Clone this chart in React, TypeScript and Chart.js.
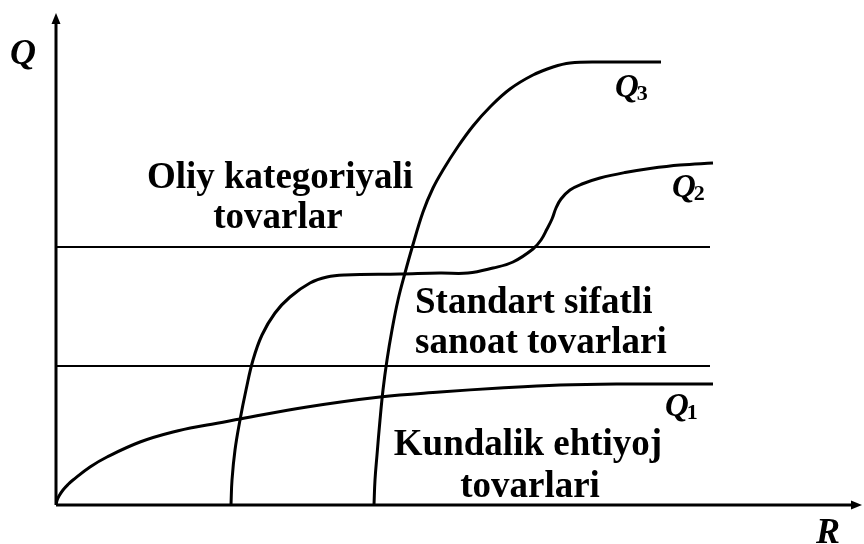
import React, { useEffect, useRef } from "react";
import { Chart, registerables } from "chart.js";

Chart.register(...registerables);

// Curve Q1 (R, Q)
const q1R = [0, 1, 3, 7, 12, 17, 34, 51, 84, 117, 151, 184, 251, 324, 384, 444, 504, 564, 657];
const q1Q = [0, 4.5, 9, 15, 20.5, 25, 38, 48, 63, 73, 80, 86, 98, 108, 113, 117, 120, 121, 121];

// Curve Q2 (R, Q)
const q2R = [175, 176, 179, 184, 190, 197, 206, 219, 234, 254, 271, 289, 344, 384, 412, 437, 457, 477, 485, 491, 496, 500, 505, 514, 526, 544, 569, 594, 624, 657];
const q2Q = [0, 25, 55, 85, 115, 145, 170, 192, 208, 222, 228, 230, 231, 232, 232, 237, 243, 256, 265, 276, 286, 297, 306, 315, 321, 327, 332.5, 336.5, 340, 342];

// Curve Q3 (R, Q)
const q3R = [318, 319, 321, 324, 327, 331, 336, 342, 349, 356, 367, 377, 387, 401, 417, 434, 454, 477, 497, 514, 544, 605];
const q3Q = [0, 25, 50, 85, 115, 145, 175, 205, 232, 257, 293, 317, 335, 357, 379, 398, 416, 430, 438, 442, 443, 443];

// Zone boundaries
const boundaryLevels = [258, 139];
const boundaryEnd = 654;

// Axis ranges
const rMax = 806;
const qMax = 492;

// Texts
const axisTitles = ["Q", "R"];
const curveNames = ["Q", "Q", "Q"];
const curveSubs = ["1", "2", "3"];
const zoneHigh = ["Oliy kategoriyali", "tovarlar"];
const zoneStandard = ["Standart sifatli", "sanoat tovarlari"];
const zoneDaily = ["Kundalik ehtiyoj", "tovarlari"];

const pts = (xs: number[], ys: number[]) => xs.map((x, i) => ({ x, y: ys[i] }));

const SERIF = '"Liberation Serif", "Times New Roman", serif';

const overlay = {
  id: "overlay",
  afterDatasetsDraw(chart: any) {
    const { ctx, scales } = chart;
    const xs = scales.x;
    const ys = scales.y;
    const px = (v: number) => xs.getPixelForValue(v);
    const py = (v: number) => ys.getPixelForValue(v);
    ctx.save();
    ctx.fillStyle = "#000";
    ctx.strokeStyle = "#000";
    // axes
    const ox = px(0);
    const oy = py(0);
    const xEnd = px(rMax);
    const yEnd = py(qMax);
    ctx.lineWidth = 3;
    ctx.beginPath();
    ctx.moveTo(ox, oy);
    ctx.lineTo(xEnd - 8, oy);
    ctx.moveTo(ox, oy);
    ctx.lineTo(ox, yEnd + 8);
    ctx.stroke();
    ctx.beginPath();
    ctx.moveTo(xEnd, oy);
    ctx.lineTo(xEnd - 11, oy - 4.5);
    ctx.lineTo(xEnd - 11, oy + 4.5);
    ctx.closePath();
    ctx.fill();
    ctx.beginPath();
    ctx.moveTo(ox, yEnd);
    ctx.lineTo(ox - 4.5, yEnd + 11);
    ctx.lineTo(ox + 4.5, yEnd + 11);
    ctx.closePath();
    ctx.fill();

    // axis titles
    ctx.textBaseline = "alphabetic";
    ctx.font = `bold italic 36px ${SERIF}`;
    ctx.textAlign = "center";
    ctx.fillText(axisTitles[0], ox - 33, py(qMax - 51));
    ctx.fillText(axisTitles[1], px(rMax - 34), oy + 38);

    // curve names with subscripts
    const nameAnchors = [
      [609, 89],
      [616, 308],
      [559, 408],
    ];
    ctx.textAlign = "left";
    nameAnchors.forEach(([r, q], i) => {
      ctx.font = `bold italic 33px ${SERIF}`;
      const x = px(r);
      const y = py(q);
      ctx.fillText(curveNames[i], x, y);
      const w = ctx.measureText(curveNames[i]).width;
      ctx.font = `bold 22px ${SERIF}`;
      ctx.fillText(curveSubs[i], x + w - 2, y + 3);
    });

    // zone labels
    ctx.font = `bold 37px ${SERIF}`;
    ctx.textAlign = "center";
    ctx.fillText(zoneHigh[0], px(224), py(317));
    ctx.fillText(zoneHigh[1], px(222), py(277));
    ctx.textAlign = "left";
    ctx.fillText(zoneStandard[0], px(359), py(192));
    ctx.fillText(zoneStandard[1], px(359), py(152));
    ctx.textAlign = "center";
    ctx.fillText(zoneDaily[0], px(472), py(50));
    ctx.fillText(zoneDaily[1], px(474), py(8));
    ctx.restore();
  },
};

export default function App() {
  const ref = useRef<HTMLCanvasElement | null>(null);
  useEffect(() => {
    document.body.style.margin = "0";
    if (!ref.current) return;
    const curve = (label: string, data: any[]) => ({
      label,
      data,
      borderColor: "#000",
      borderWidth: 3,
      pointRadius: 0,
      showLine: true,
      fill: false,
      tension: 0.4,
    });
    const boundary = (label: string, level: number) => ({
      label,
      data: [
        { x: 0, y: level },
        { x: boundaryEnd, y: level },
      ],
      borderColor: "#000",
      borderWidth: 2,
      pointRadius: 0,
      showLine: true,
      fill: false,
    });
    const chart = new Chart(ref.current, {
      type: "scatter",
      data: {
        datasets: [
          boundary("upper", boundaryLevels[0]),
          boundary("lower", boundaryLevels[1]),
          curve("Q1", pts(q1R, q1Q)),
          curve("Q2", pts(q2R, q2Q)),
          curve("Q3", pts(q3R, q3Q)),
        ],
      },
      options: {
        responsive: false,
        animation: false,
        layout: { padding: { left: 56, right: 2, top: 13, bottom: 39 } },
        scales: {
          x: { type: "linear", min: 0, max: rMax, display: false },
          y: { type: "linear", min: 0, max: qMax, display: false },
        },
        plugins: { legend: { display: false }, tooltip: { enabled: false } },
      },
      plugins: [overlay],
    });
    return () => chart.destroy();
  }, []);
  return (
    <div style={{ width: 864, height: 544, background: "#fff" }}>
      <canvas ref={ref} width={864} height={544} />
    </div>
  );
}
